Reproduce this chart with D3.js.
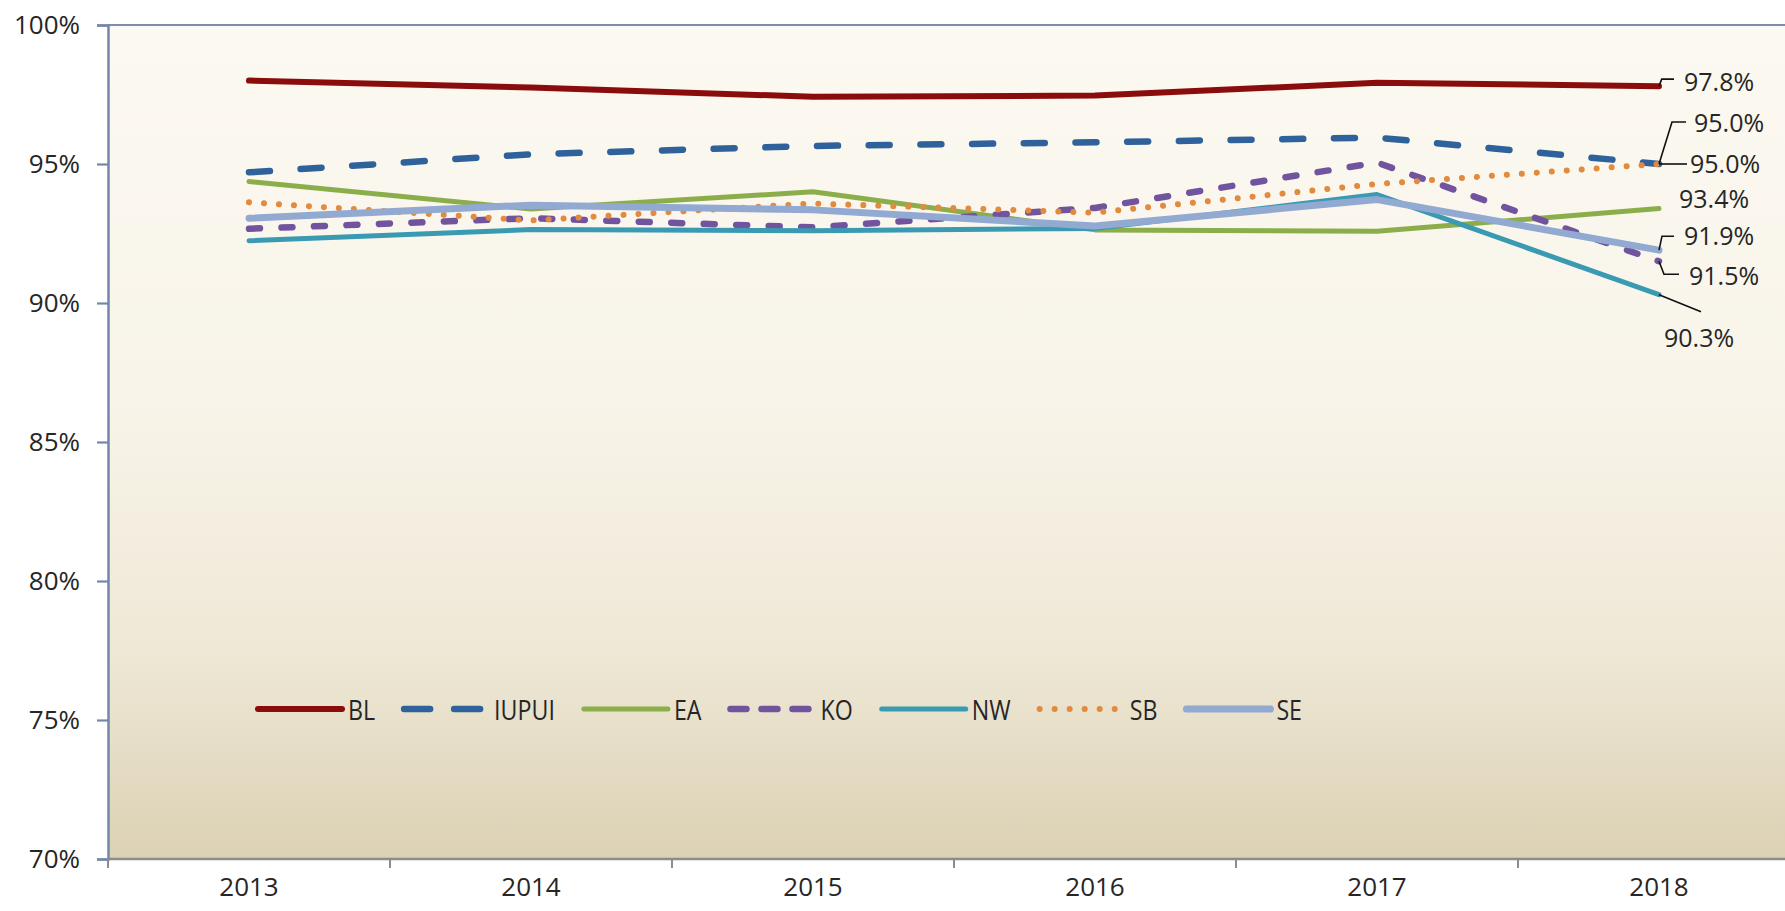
<!DOCTYPE html>
<html>
<head>
<meta charset="utf-8">
<script src="https://cdn.jsdelivr.net/npm/d3@7"></script>
<style>
  html, body { margin: 0; padding: 0; background: #ffffff; }
  svg { display: block; }
  text { font-family: "Open Sans", "Noto Sans", sans-serif; fill: #262626; }
</style>
</head>
<body>
<svg id="chart" width="1785" height="911"></svg>
<script>
// ---------- data ----------
const years = ["2013", "2014", "2015", "2016", "2017", "2018"];
const seriesNames = ["BL", "IUPUI", "EA", "KO", "NW", "SB", "SE"];
const BL    = [98.0, 97.75, 97.42, 97.46, 97.92, 97.8];
const IUPUI = [94.7, 95.35, 95.65, 95.78, 95.95, 95.0];
const EA    = [94.37, 93.38, 94.0, 92.63, 92.58, 93.4];
const KO    = [92.67, 93.05, 92.72, 93.42, 95.05, 91.5];
const NW    = [92.24, 92.64, 92.6, 92.68, 93.9, 90.3];
const SB    = [93.62, 92.97, 93.58, 93.25, 94.28, 95.0];
const SE    = [93.05, 93.52, 93.35, 92.77, 93.72, 91.9];
const yTicks = [70, 75, 80, 85, 90, 95, 100];

const seriesValues = { BL, IUPUI, EA, KO, NW, SB, SE };

// ---------- styles ----------
const styles = {
  BL:    { color: "#8B0C0C", width: 6,   dash: null,        legendDash: null },
  IUPUI: { color: "#2F619B", width: 6.5, dash: "21,30.7",   legendDash: "26,24" },
  EA:    { color: "#8BAE4A", width: 5,   dash: null,        legendDash: null },
  KO:    { color: "#72549E", width: 6.5, dash: "11,21.5",   legendDash: "16,15" },
  NW:    { color: "#3A9AB2", width: 5,   dash: null,        legendDash: null },
  SB:    { color: "#E28A3E", width: 6,   dash: "0.01,15",   legendDash: "0.01,15" },
  SE:    { color: "#92A9D2", width: 7,   dash: null,        legendDash: null }
};
// label placement relative to last point (px)
const labelPlace = {
  BL:    { dx: 25, dy: -5,  leader: [[0,0],[2.7,-7],[15,-7]] },
  IUPUI: { dx: 35, dy: -42, leader: [[0,0],[13,-42],[27,-42]] },
  EA:    { dx: 20, dy: -10, leader: null },
  KO:    { dx: 30, dy: 14,  leader: [[0,0],[5,13],[20,13]] },
  NW:    { dx: 5,  dy: 42,  leader: [[0,0],[42,17]] },
  SB:    { dx: 31, dy: -1,  leader: [[0,0],[28,0]] },
  SE:    { dx: 25, dy: -15, leader: [[0,0],[3,-14],[15,-14]] }
};

// ---------- layout ----------
const W = 1785, H = 911;
const plotLeft = 108, plotTop = 25, plotBottom = 859;
const band = 282;

const svg = d3.select("#chart");

const x = d3.scaleBand().domain(years).range([plotLeft, plotLeft + band * years.length]).padding(0);
const y = d3.scaleLinear().domain([70, 100]).range([plotBottom, plotTop]);
const cx = d => x(d) + x.bandwidth() / 2;

// background gradient
const defs = svg.append("defs");
const grad = defs.append("linearGradient").attr("id", "bg").attr("x1", 0).attr("y1", 0).attr("x2", 0).attr("y2", 1);
[[0, "#FCF9F2"], [0.45, "#F8F4E9"], [0.75, "#EEE8D6"], [1, "#DCD1B4"]].forEach(([o, c]) =>
  grad.append("stop").attr("offset", o).attr("stop-color", c));

svg.append("rect")
  .attr("x", plotLeft).attr("y", plotTop)
  .attr("width", W - plotLeft + 20).attr("height", plotBottom - plotTop)
  .attr("fill", "url(#bg)");

// top border
svg.append("line")
  .attr("x1", plotLeft).attr("x2", W + 10)
  .attr("y1", y(100)).attr("y2", y(100))
  .attr("stroke", "#7C8EAC").attr("stroke-width", 2.2);

// y axis
const yAxis = svg.append("g")
  .attr("transform", `translate(${plotLeft},0)`)
  .call(d3.axisLeft(y).tickValues(yTicks).tickSize(11).tickPadding(17).tickFormat(d => d + "%"));
yAxis.select(".domain").attr("stroke", "#7388A8").attr("stroke-width", 2.5);
yAxis.selectAll(".tick line").attr("stroke", "#7388A8").attr("stroke-width", 2.2);
yAxis.selectAll(".tick text")
  .style("font-family", "'Open Sans', sans-serif").style("font-size", "26px").attr("fill", "#262626");

// x axis
const xAxisG = svg.append("g").attr("transform", `translate(0,${plotBottom})`);
xAxisG.append("line")
  .attr("x1", plotLeft).attr("x2", W + 10).attr("y1", 0).attr("y2", 0)
  .attr("stroke", "#8C8C8C").attr("stroke-width", 2.5);
const edges = years.map(d => x(d)).concat([x(years[years.length - 1]) + x.bandwidth()]);
xAxisG.selectAll("line.tk")
  .data(edges)
  .join("line").attr("class", "tk")
  .attr("x1", d => d).attr("x2", d => d)
  .attr("y1", 0).attr("y2", 9)
  .attr("stroke", "#8C8C8C").attr("stroke-width", 2);
const xAx = xAxisG.append("g").call(d3.axisBottom(x).tickSize(0).tickPadding(19));
xAx.select(".domain").remove();
xAx.selectAll(".tick text")
  .style("font-family", "'Open Sans', sans-serif").style("font-size", "26px").attr("fill", "#262626");

// lines
const line = d3.line().x((d, i) => cx(years[i])).y(d => y(d));
const linesG = svg.append("g");
seriesNames.forEach(name => {
  const s = styles[name];
  linesG.append("path")
    .datum(seriesValues[name])
    .attr("d", line)
    .attr("fill", "none")
    .attr("stroke", s.color)
    .attr("stroke-width", s.width)
    .attr("stroke-linecap", "round")
    .attr("stroke-linejoin", "round")
    .attr("stroke-dasharray", s.dash);
});

// end labels
const fmt = d3.format(".1f");
const lastYear = years[years.length - 1];
const labelsG = svg.append("g");
seriesNames.forEach(name => {
  const v = seriesValues[name][years.length - 1];
  const px = cx(lastYear), py = y(v);
  const p = labelPlace[name];
  if (p.leader) {
    labelsG.append("path")
      .attr("d", d3.line()(p.leader.map(([a, b]) => [px + a, py + b])))
      .attr("fill", "none").attr("stroke", "#111").attr("stroke-width", 1.6);
  }
  labelsG.append("text")
    .attr("x", px + p.dx).attr("y", py + p.dy)
    .attr("dominant-baseline", "central")
    .style("font-size", "25px")
    .text(fmt(v) + "%");
});

// legend
const legend = svg.append("g").attr("transform", "translate(258,709)");
let lx = 0;
const sampleLen = 84;
seriesNames.forEach(name => {
  const s = styles[name];
  const g = legend.append("g").attr("transform", `translate(${lx},0)`);
  g.append("line")
    .attr("x1", 0).attr("x2", sampleLen).attr("y1", 0).attr("y2", 0)
    .attr("stroke", s.color).attr("stroke-width", s.width)
    .attr("stroke-linecap", "round").attr("stroke-dasharray", s.legendDash);
  const t = g.append("text")
    .attr("transform", `translate(${sampleLen + 6},0) scale(0.86,1)`)
    .attr("dominant-baseline", "central")
    .style("font-size", "27px")
    .text(name);
  const tw = t.node().getComputedTextLength() * 0.86;
  lx += sampleLen + 6 + tw + 29;
});
</script>
</body>
</html>
